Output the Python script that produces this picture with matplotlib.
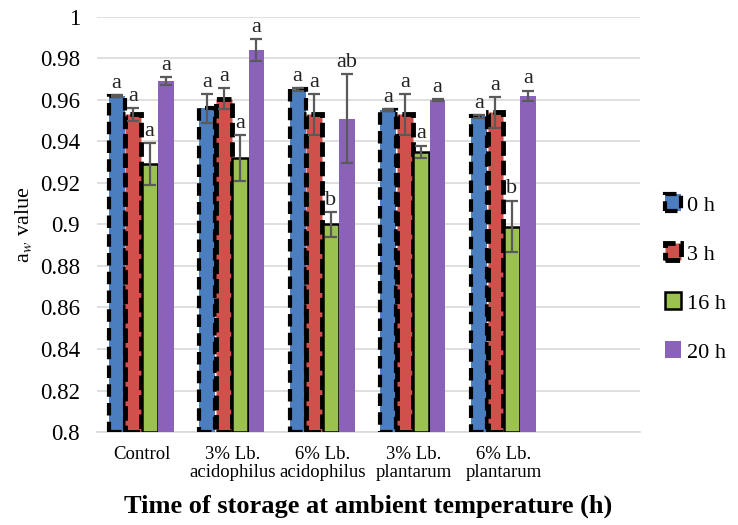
import matplotlib
matplotlib.use("Agg")
import matplotlib.pyplot as plt
import numpy as np

categories = ["Control", "3% Lb.\nacidophilus", "6% Lb.\nacidophilus", "3% Lb.\nplantarum", "6% Lb.\nplantarum", ""]
series = ["0 h", "3 h", "16 h", "20 h"]
v0 = [0.962, 0.956, 0.965, 0.955, 0.952]
v3 = [0.953, 0.9605, 0.953, 0.953, 0.954]
v16 = [0.929, 0.932, 0.900, 0.935, 0.899]
v20 = [0.969, 0.984, 0.951, 0.960, 0.962]
e0 = [0.0005, 0.007, 0.0007, 0.0005, 0.0007]
e3 = [0.003, 0.005, 0.010, 0.010, 0.0075]
e16 = [0.010, 0.011, 0.006, 0.003, 0.0125]
e20 = [0.002, 0.0055, 0.0215, 0.0005, 0.0025]
l0 = ["a", "a", "a", "a", "a"]
l3 = ["a", "a", "a", "a", "a"]
l16 = ["a", "a", "b", "a", "b"]
l20 = ["a", "a", "ab", "a", "a"]

plt.rcParams['font.family'] = ['Liberation Serif', 'DejaVu Serif']
plt.rcParams['mathtext.fontset'] = 'stix'
fig = plt.figure(figsize=(7.38, 5.25), dpi=100)
ax = fig.add_axes([0.131, 0.177, 0.736, 0.791])

vals = [v0, v3, v16, v20]
errs = [e0, e3, e16, e20]
lets = [l0, l3, l16, l20]
colors = ["#4a7ebf", "#d0504c", "#9bc24f", "#8a63b8"]
offs = [-0.28, -0.095, 0.085, 0.265]
w = 0.175
x = np.arange(len(categories) - 1)
handles = []
for i in range(4):
    if i == 0:
        kw = dict(edgecolor="black", linewidth=3.0, linestyle=(0, (3, 1.5)))
    elif i == 1:
        kw = dict(edgecolor="black", linewidth=3.5, linestyle=(0, (3, 1)))
    elif i == 2:
        kw = dict(edgecolor="black", linewidth=1.8)
    else:
        kw = dict(edgecolor="none", linewidth=0)
    b = ax.bar(x + offs[i], np.array(vals[i]) - 0.8, w, bottom=0.8, color=colors[i], zorder=3, **kw)
    ax.errorbar(x + offs[i], vals[i], yerr=errs[i], fmt="none", ecolor="#5a5a5a",
                elinewidth=1.6, capsize=4, capthick=1.6, zorder=4)
    handles.append(b)
    for xi, v, e, l in zip(x, vals[i], errs[i], lets[i]):
        ax.text(xi + offs[i], v + e + 0.001, l, ha="center", va="bottom", fontsize=16, color="#222222", zorder=5)

ax.set_xlim(-0.5, 5.5)
ax.set_ylim(0.8, 1.0)
ax.set_yticks(np.arange(0.8, 1.001, 0.02))
ax.set_yticklabels(["0.8", "0.82", "0.84", "0.86", "0.88", "0.9", "0.92", "0.94", "0.96", "0.98", "1"], fontsize=16.5)
ax.set_xticks(np.arange(len(categories)))
ax.set_xticklabels(categories, fontsize=13.5, linespacing=1.05)
ax.tick_params(axis="x", length=0, pad=10)
ax.tick_params(axis="y", length=0, pad=12)
ax.grid(axis="y", color="#d9d9d9", linewidth=1.2, zorder=0)
for s in ["top", "right", "left"]:
    ax.spines[s].set_visible(False)
ax.spines["bottom"].set_color("#d9d9d9")
ax.spines["bottom"].set_linewidth(1.2)

ax.set_ylabel("a$_{w}$ value", fontsize=16, labelpad=4)
ax.set_xlabel("Time of storage at ambient temperature (h)", fontsize=19, fontweight="bold", labelpad=10)

ax.legend(handles, series, loc="center left", bbox_to_anchor=(1.01, 0.37), frameon=False,
          fontsize=16, handlelength=0.7, handleheight=0.8, handletextpad=0.3, labelspacing=1.25)

fig.savefig("out.png", dpi=100)
